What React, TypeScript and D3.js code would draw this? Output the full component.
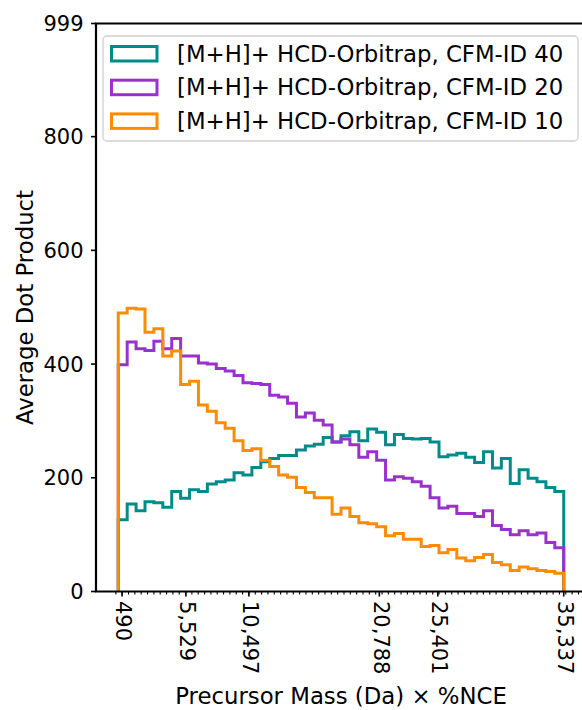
import React from 'react';
import * as d3 from 'd3';

// Histogram binning of precursor mass × NCE
const binStart = 191;
const binEnd = 35337;
const binCount = 50;

// Average dot product per bin
const cfm40 = [
  126, 154, 142, 158, 156, 148, 176, 164, 179, 176,
  189, 193, 196, 209, 205, 218, 228, 234, 239, 239,
  249, 256, 259, 271, 263, 274, 281, 265, 286, 280,
  258, 276, 269, 268, 269, 263, 237, 240, 243, 236,
  227, 246, 217, 234, 190, 214, 199, 193, 183, 176,
];
const cfm20 = [
  399, 439, 427, 424, 440, 427, 445, 414, 414, 402,
  400, 392, 388, 380, 367, 366, 364, 345, 342, 331,
  307, 314, 301, 293, 263, 268, 258, 236, 246, 231,
  196, 202, 199, 193, 185, 165, 147, 150, 137, 137,
  132, 142, 116, 109, 100, 107, 100, 103, 86, 77,
];
const cfm10 = [
  490, 498, 497, 456, 462, 414, 423, 364, 370, 328,
  317, 297, 287, 265, 248, 251, 231, 220, 205, 201,
  183, 174, 165, 165, 136, 147, 132, 121, 119, 114,
  98, 102, 92, 92, 79, 81, 68, 74, 59, 54,
  60, 65, 51, 47, 37, 43, 40, 37, 35, 32,
];

const seriesNames = [
  '[M+H]+ HCD-Orbitrap, CFM-ID 40',
  '[M+H]+ HCD-Orbitrap, CFM-ID 20',
  '[M+H]+ HCD-Orbitrap, CFM-ID 10',
];
const seriesValues = [cfm40, cfm20, cfm10];
const seriesColors = ['#008b8b', '#9932cc', '#ff8c00'];

const xTickValues = [490, 5529, 10497, 20788, 25401, 35337];
const xMinorStep = 500;
const yTickValues = [0, 200, 400, 600, 800, 999];

const W = 582;
const H = 710;
const FONT = 'DejaVu Sans, sans-serif';
const plot = { left: 96, right: 586, top: 23.5, bottom: 591.5 };

export default function App() {
  const x = d3.scaleLinear().domain([-1566, 37094]).range([plot.left, plot.right]);
  const y = d3.scaleLinear().domain([0, 999]).range([plot.bottom, plot.top]);
  const edges = d3.range(binCount + 1).map((i) => binStart + ((binEnd - binStart) * i) / binCount);

  const stepPath = (vals: number[]) => {
    const pts: [number, number][] = [[x(edges[0]), y(0)]];
    vals.forEach((v, i) => {
      pts.push([x(edges[i]), y(v)], [x(edges[i + 1]), y(v)]);
    });
    pts.push([x(edges[binCount]), y(0)]);
    return d3.line()(pts) || '';
  };

  const minorTicks = d3
    .range(0, x.domain()[1], xMinorStep)
    .filter((v) => !xTickValues.includes(v));
  const fmt = d3.format(',');

  return (
    <svg
      width={W}
      height={H}
      style={{ position: 'absolute', left: 0, top: 0, background: '#fff' }}
      fontFamily={FONT}
    >
      <defs>
        <clipPath id="plot-area">
          <rect x={plot.left} y={plot.top} width={plot.right - plot.left} height={plot.bottom - plot.top} />
        </clipPath>
      </defs>

      <g clipPath="url(#plot-area)">
        {seriesValues.map((vals, i) => (
          <path
            key={i}
            d={stepPath(vals)}
            fill="none"
            stroke={seriesColors[i]}
            strokeWidth={3}
            strokeLinejoin="miter"
          />
        ))}
      </g>

      {/* spines */}
      <line x1={plot.left} x2={plot.left} y1={plot.top} y2={plot.bottom} stroke="#000" strokeWidth={2.2} />
      <line x1={plot.left - 1.1} x2={W} y1={plot.bottom} y2={plot.bottom} stroke="#000" strokeWidth={2.2} />
      <line x1={plot.left - 1.1} x2={W} y1={plot.top} y2={plot.top} stroke="#000" strokeWidth={2.2} />

      {/* y axis */}
      {yTickValues.map((v) => (
        <g key={v}>
          <line x1={plot.left - 5} x2={plot.left} y1={y(v)} y2={y(v)} stroke="#000" strokeWidth={1.6} />
          <text x={83.5} y={y(v)} dy="0.36em" textAnchor="end" fontSize={21} fill="#000">
            {v}
          </text>
        </g>
      ))}
      <text
        transform={`translate(33,${(plot.top + plot.bottom) / 2}) rotate(-90)`}
        textAnchor="middle"
        fontSize={22.8}
        fill="#000"
      >
        Average Dot Product
      </text>

      {/* x axis */}
      {minorTicks.map((v) => (
        <line key={v} x1={x(v)} x2={x(v)} y1={plot.bottom} y2={plot.bottom + 3} stroke="#000" strokeWidth={1.1} />
      ))}
      {xTickValues.map((v) => (
        <g key={v}>
          <line x1={x(v)} x2={x(v)} y1={plot.bottom} y2={plot.bottom + 5} stroke="#000" strokeWidth={1.6} />
          <text
            transform={`translate(${x(v)},${plot.bottom + 9.5}) rotate(90)`}
            dy="0.27em"
            textAnchor="start"
            fontSize={21}
            fill="#000"
          >
            {fmt(v)}
          </text>
        </g>
      ))}
      <text x={(plot.left + plot.right) / 2} y={703.5} textAnchor="middle" fontSize={22.8} fill="#000">
        Precursor Mass (Da) × %NCE
      </text>

      {/* legend */}
      <rect
        x={103}
        y={36}
        width={475}
        height={105}
        rx={4}
        fill="#fff"
        fillOpacity={0.8}
        stroke="#d0d0d0"
        strokeWidth={1.3}
      />
      {seriesNames.map((name, i) => (
        <g key={name} transform={`translate(0,${i * 33.7})`}>
          <rect x={111.5} y={46.5} width={45.5} height={14.5} fill="none" stroke={seriesColors[i]} strokeWidth={3} />
          <text x={177} y={61.5} fontSize={22.8} fill="#000">
            {name}
          </text>
        </g>
      ))}
    </svg>
  );
}
